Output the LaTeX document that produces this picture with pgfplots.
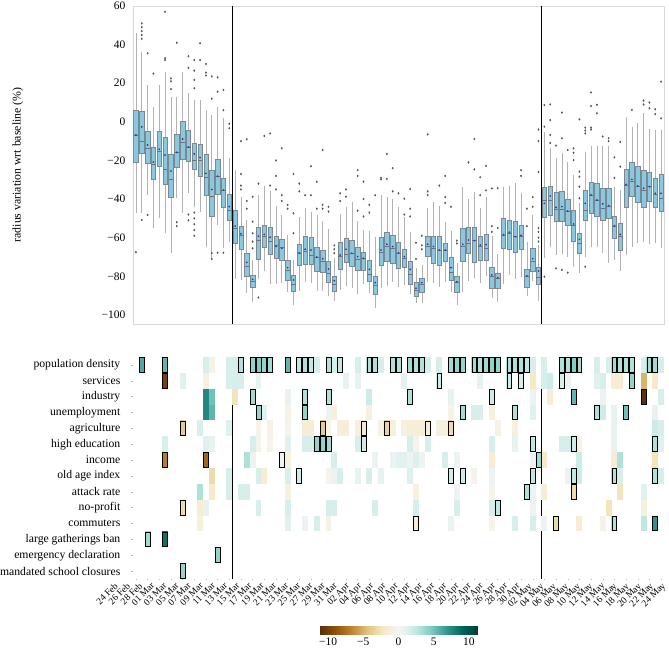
\documentclass[border=0pt]{standalone}
\usepackage{pgfplots}
\pgfplotsset{compat=1.18}
\usepackage{pgfplotstable}
\usepgfplotslibrary{statistics}
\usepackage{fontspec}
\setmainfont{Liberation Serif}

\definecolor{boxblue}{RGB}{137,201,224}
\definecolor{boxedge}{RGB}{125,135,145}
\definecolor{whisk}{RGB}{178,178,178}
\definecolor{meddark}{RGB}{105,115,125}
\definecolor{meanblue}{RGB}{40,60,170}
\definecolor{outl}{RGB}{85,85,85}

\pgfdeclareplotmark{hcell}{\pgfpathrectangle{\pgfpoint{-2.95pt}{-7.95pt}}{\pgfpoint{5.9pt}{15.9pt}}\pgfusepathqfill}
\pgfdeclareplotmark{hbox}{\pgfpathrectangle{\pgfpoint{-2.45pt}{-7.35pt}}{\pgfpoint{4.9pt}{14.7pt}}\pgfusepathqstroke}

\newcommand{\bx}[6]{\addplot[boxplot prepared={draw direction=y, draw position=#1, lower whisker=#2, lower quartile=#3, median=#4, upper quartile=#5, upper whisker=#6}] coordinates {};}

\pgfplotstableread{
x y c
1 0 6
5 0 5.5
12 0 1.5
13 0 -0.7
16 0 1.5
17 0 1.5
18 0 3
20 0 4
21 0 4.5
22 0 4
23 0 3.5
26 0 5.5
28 0 2.5
29 0 3
30 0 2.5
31 0 1.5
33 0 3
34 0 1.5
35 0 2.5
38 0 1.5
40 0 3
41 0 3
42 0 1.5
44 0 3
45 0 3
47 0 3.5
48 0 3
49 0 3
50 0 1.5
52 0 1.5
54 0 3.5
55 0 4
56 0 4
58 0 3.5
59 0 3
60 0 3.5
61 0 4
62 0 4
64 0 3
65 0 3
66 0 3
67 0 2.5
68 0 1.5
70 0 1.5
73 0 3
74 0 3
75 0 4.5
76 0 3.5
79 0 1.5
81 0 1.5
82 0 3.5
83 0 3
84 0 3
85 0 3
87 0 1.5
88 0 3.5
89 0 3.5
90 0 1.5
5 1 -10
8 1 1
12 1 -1
16 1 1.5
17 1 1.5
18 1 1.5
21 1 0.7
36 1 0.7
38 1 0.7
46 1 0.8
52 1 2
59 1 0.8
64 1 2
66 1 1.5
68 1 -2
70 1 1.5
71 1 2
73 1 1.5
74 1 0.5
79 1 1
80 1 1.5
82 1 -1.5
83 1 -1.5
85 1 4
87 1 -5
89 1 -2
12 2 7.5
13 2 5
17 2 -2.5
20 2 3.5
26 2 0.7
29 2 3
33 2 3
40 2 2
47 2 3
54 2 0.7
61 2 2
68 2 0.5
71 2 -1.5
75 2 5.5
80 2 0.5
87 2 -11
90 2 1.5
12 3 7.5
13 3 5.5
21 3 4
22 3 1
26 3 -0.7
29 3 4
33 3 0.5
34 3 -1
40 3 -1
54 3 -0.5
56 3 3.5
58 3 1.5
59 3 1.5
61 3 -1
65 3 3
68 3 1
79 3 3
80 3 2
82 3 0.7
84 3 5
89 3 0.7
8 4 -4
11 4 1.5
16 4 1
21 4 -0.7
23 4 -0.7
26 4 -0.5
29 4 -1.5
30 4 -1.5
32 4 -4
33 4 -0.5
35 4 -1.3
36 4 -1.3
38 4 -1
39 4 -2
42 4 -0.8
43 4 -3.5
44 4 -1
46 4 -1
47 4 -1.3
48 4 -1.3
49 4 -1.3
50 4 -1.5
52 4 -1
53 4 -1
54 4 -3
62 4 -0.7
65 4 -1
82 4 0.7
89 4 2
90 4 1.5
5 5 1.5
12 5 1
13 5 0.7
20 5 1.5
21 5 -0.5
23 5 -0.5
26 5 1
29 5 1.5
30 5 1.5
31 5 4
32 5 4
33 5 3.5
38 5 1.5
39 5 2
47 5 1.5
48 5 -0.5
50 5 1.5
61 5 1.5
65 5 0.7
68 5 2.5
73 5 1.5
74 5 1.5
75 5 2
76 5 -0.7
82 5 0.7
89 5 3
90 5 1
5 6 -7
12 6 -8
19 6 3
20 6 0.5
25 6 0.5
26 6 -1
34 6 1.5
41 6 0.5
44 6 0.5
45 6 1
46 6 1
47 6 0.5
48 6 1.2
49 6 0.5
53 6 1.5
55 6 0.5
61 6 -1.5
68 6 0.5
69 6 3.5
70 6 -2
76 6 2
82 6 -1.5
83 6 3
89 6 -2.5
13 7 -3
16 7 1.5
21 7 1.5
22 7 -1.5
26 7 1.5
28 7 2
33 7 -0.5
34 7 0.5
35 7 1.5
38 7 0.7
40 7 1.5
42 7 0.7
47 7 1.2
54 7 2
56 7 2
58 7 -0.5
61 7 0.5
68 7 2.5
74 7 0.5
75 7 2.5
76 7 2
82 7 3
83 7 1.5
89 7 3
90 7 1.5
11 8 3
13 8 -2
16 8 1.5
18 8 1.5
19 8 1.5
26 8 -1
48 8 -1
55 8 0.5
61 8 -0.5
67 8 3
68 8 0.5
70 8 -1.5
75 8 -3
83 8 -2.5
87 8 1
8 9 -3
11 9 -1.5
12 9 0.7
21 9 1.5
26 9 1.5
33 9 1.5
34 9 1.5
41 9 1.5
48 9 1.5
55 9 1.5
61 9 1.5
62 9 2.5
68 9 0.5
81 9 -2.5
87 9 -1
11 10 -1
26 10 1
29 10 0.5
31 10 1.5
33 10 -0.7
48 10 -1.5
54 10 0.5
61 10 -0.5
65 10 1.5
68 10 1.5
70 10 0.5
72 10 -3
76 10 -1.5
80 10 -0.7
82 10 3
87 10 2.5
89 10 7
2 11 3.5
5 11 8.5
14 12 4
8 13 4
}\hmcells

\pgfplotstableread{
x y
1 0
5 0
18 0
20 0
21 0
22 0
23 0
26 0
28 0
29 0
30 0
33 0
35 0
40 0
41 0
44 0
45 0
47 0
48 0
49 0
54 0
55 0
56 0
58 0
59 0
60 0
61 0
62 0
64 0
65 0
66 0
67 0
73 0
74 0
75 0
76 0
82 0
83 0
84 0
85 0
88 0
89 0
5 1
52 1
64 1
66 1
73 1
85 1
20 2
29 2
33 2
47 2
61 2
75 2
87 2
21 3
29 3
56 3
65 3
79 3
84 3
8 4
32 4
39 4
43 4
50 4
54 4
31 5
32 5
33 5
39 5
68 5
75 5
89 5
5 6
12 6
25 6
69 6
28 7
54 7
56 7
68 7
75 7
82 7
89 7
67 8
75 8
8 9
62 9
48 10
72 10
82 10
89 10
2 11
5 11
14 12
8 13
}\hmbox

\begin{document}
\begin{tikzpicture}
\path[use as bounding box] (0pt,0pt) rectangle (669pt,652pt);
\begin{axis}[
  at={(133pt,328pt)}, anchor=south west,
  scale only axis, width=531pt, height=318pt,
  xmin=-0.5, xmax=90.5, ymin=-104.7, ymax=60,
  tick pos=left, tick align=outside,
  xtick={0,...,90}, xticklabels={},
  major tick length=1.5pt,
  xtick style={draw=gray!55, line width=0.4pt},
  ytick={-100,-80,-60,-40,-20,0,20,40,60},
  yticklabels={−100,−80,−60,−40,−20,0,20,40,60},
  ytick style={draw=none},
  yticklabel style={font=\fontsize{11.5}{13}\selectfont, inner sep=0pt, xshift=-6pt},
  axis line style={draw=gray!30, line width=0.8pt},
  ylabel={radius variation wrt baseline (\%)},
  ylabel style={at={(axis description cs:-0.217,0.5)}, anchor=center, font=\fontsize{11.8}{13}\selectfont},
  boxplot/draw direction=y,
  boxplot/box extend=0.75,
  boxplot/whisker extend=0,
  boxplot/every box/.style={fill=boxblue, draw=boxedge, line width=0.5pt},
  boxplot/every whisker/.style={draw=whisk, line width=0.6pt},
  boxplot/every median/.style={draw=meddark, line width=0.6pt},
  clip=false,
]
\bx{0}{-47.4}{-21}{-7}{6}{46.2}
\bx{1}{-47.4}{-16.3}{-10.1}{5.6}{36}
\bx{2}{-38}{-21.5}{-13.7}{-5.1}{19}
\bx{3}{-55}{-29.8}{-22.2}{-13}{7.5}
\bx{4}{-50}{-22.9}{-15.3}{-4.9}{19}
\bx{5}{-57.7}{-32.4}{-24.6}{-7.8}{26}
\bx{6}{-68}{-39.1}{-29.8}{-16.8}{13}
\bx{7}{-39.6}{-23.6}{-15.9}{-6.6}{13}
\bx{8}{-47.4}{-19.4}{-10.4}{0.3}{26}
\bx{9}{-37}{-20.6}{-13.3}{-4.2}{14.8}
\bx{10}{-44}{-24.6}{-19.7}{-11.1}{11.3}
\bx{11}{-46.5}{-28}{-19.7}{-11.8}{11.3}
\bx{12}{-64.6}{-38}{-28.7}{-16.8}{6.2}
\bx{13}{-70.7}{-48.8}{-38.7}{-25.3}{3.6}
\bx{14}{-53.4}{-37.5}{-28.4}{-19.4}{7.9}
\bx{15}{-65.5}{-44.3}{-35.3}{-29.3}{1.8}
\bx{16}{-62}{-50.8}{-45.6}{-37.4}{-18.9}
\bx{17}{-81.6}{-62.9}{-55}{-46}{-25}
\bx{18}{-82}{-66}{-58.6}{-53.9}{-39}
\bx{19}{-88.5}{-80.2}{-74.7}{-68.3}{-50.8}
\bx{20}{-93.1}{-85.7}{-82.8}{-79.7}{-71.6}
\bx{21}{-81.6}{-71}{-61.4}{-54.5}{-37.9}
\bx{22}{-77.1}{-64.7}{-59.2}{-53.4}{-33.3}
\bx{23}{-84}{-68.6}{-61.7}{-54.6}{-36}
\bx{24}{-84}{-70.7}{-64.2}{-59.2}{-43.6}
\bx{25}{-83.6}{-71.6}{-65.2}{-60.9}{-48.3}
\bx{26}{-88}{-82.3}{-77.1}{-71.6}{-58.6}
\bx{27}{-94.9}{-87.8}{-84}{-79.5}{-71.6}
\bx{28}{-87.6}{-74.3}{-68.1}{-63.4}{-49.5}
\bx{29}{-82.8}{-73.8}{-66.9}{-59.2}{-44.8}
\bx{30}{-83.3}{-73.8}{-69.3}{-59.6}{-46.5}
\bx{31}{-87.5}{-77.6}{-70.2}{-65}{-48.3}
\bx{32}{-87.5}{-77.9}{-72.1}{-66.4}{-51.4}
\bx{33}{-90.2}{-83.1}{-78.5}{-72.4}{-55.7}
\bx{34}{-92.8}{-87.6}{-84}{-80.2}{-70.7}
\bx{35}{-87.1}{-76.4}{-69.8}{-62.6}{-47.7}
\bx{36}{-85}{-72.9}{-68.5}{-60.3}{-44.3}
\bx{37}{-86.2}{-75}{-68.1}{-61.4}{-41.3}
\bx{38}{-89.2}{-76.7}{-71}{-65.2}{-51.2}
\bx{39}{-84}{-77.1}{-70.9}{-67.4}{-56}
\bx{40}{-88.8}{-82.8}{-78.8}{-71.6}{-56.4}
\bx{41}{-96.3}{-89.2}{-84.5}{-79.8}{-59.5}
\bx{42}{-86.2}{-74.5}{-67.4}{-59.8}{-37.9}
\bx{43}{-85}{-72.4}{-64.6}{-57.1}{-38.8}
\bx{44}{-82.8}{-73.3}{-65.5}{-58.6}{-40}
\bx{45}{-85.7}{-75.9}{-68.1}{-62.2}{-44.3}
\bx{46}{-84.5}{-75.3}{-70.7}{-66}{-49.1}
\bx{47}{-89.4}{-84}{-79}{-72.4}{-56.9}
\bx{48}{-93.7}{-90.2}{-87.1}{-83.1}{-75.9}
\bx{49}{-93.7}{-88.3}{-84}{-81.2}{-74.1}
\bx{50}{-82.8}{-69.8}{-64.6}{-59}{-44.8}
\bx{51}{-83.6}{-73.3}{-65.5}{-59.2}{-41.3}
\bx{52}{-85.4}{-74.3}{-66.4}{-59.5}{-43.6}
\bx{53}{-82.8}{-72.1}{-66.7}{-62.9}{-51.7}
\bx{54}{-88.3}{-81.9}{-77.9}{-70.3}{-56.6}
\bx{55}{-94.9}{-88.5}{-83}{-80.2}{-73}
\bx{56}{-88.3}{-72.4}{-64.6}{-55.1}{-33.9}
\bx{57}{-82.4}{-68.1}{-62.9}{-54.6}{-40}
\bx{58}{-81}{-72.7}{-61.5}{-54.6}{-36.5}
\bx{59}{-83.6}{-71.6}{-64.6}{-59.5}{-44.8}
\bx{60}{-79.8}{-71.6}{-65.5}{-58.3}{-38.8}
\bx{61}{-91.4}{-86.2}{-79.8}{-75.3}{-59.2}
\bx{62}{-93.1}{-86.2}{-81.1}{-78.5}{-68.6}
\bx{63}{-84}{-65.5}{-58.6}{-50.1}{-33.9}
\bx{64}{-79.3}{-66}{-57.7}{-51}{-33}
\bx{65}{-81.6}{-67.8}{-59.5}{-51.4}{-31.5}
\bx{66}{-80.2}{-66}{-59.5}{-53.4}{-36.7}
\bx{67}{-90.2}{-85.7}{-80.2}{-76.1}{-62.4}
\bx{68}{-82.3}{-77.3}{-72.4}{-65.5}{-48.3}
\bx{69}{-92.6}{-84.2}{-80.5}{-75.5}{-63.8}
\bx{70}{-70.7}{-49.4}{-40.8}{-33.9}{-5.1}
\bx{71}{-64.6}{-48.2}{-40.5}{-33.2}{-13.7}
\bx{72}{-69}{-51.7}{-45.3}{-36.7}{-18.9}
\bx{73}{-68.4}{-51.7}{-45.3}{-36.2}{-16.3}
\bx{74}{-69.8}{-53.8}{-46.5}{-40}{-20.6}
\bx{75}{-75}{-62}{-53.8}{-46}{-27.5}
\bx{76}{-78.5}{-68.1}{-62.9}{-57.7}{-42.2}
\bx{77}{-69.8}{-50.8}{-45.7}{-35.3}{-15.8}
\bx{78}{-64.6}{-47.4}{-37.9}{-31.5}{-12.3}
\bx{79}{-64.6}{-49.1}{-40.5}{-31.8}{-12.3}
\bx{80}{-67.8}{-50.8}{-44.8}{-34.4}{-12.5}
\bx{81}{-73}{-50}{-43.9}{-34.4}{-12.3}
\bx{82}{-71.6}{-60.3}{-54.3}{-49.1}{-33.9}
\bx{83}{-77.1}{-66.4}{-59.5}{-52.6}{-35.3}
\bx{84}{-69}{-44.3}{-32.7}{-24.6}{2.3}
\bx{85}{-64.6}{-38.7}{-31}{-21}{-2.5}
\bx{86}{-62.9}{-41.8}{-33.2}{-23.2}{-0.7}
\bx{87}{-62.1}{-44.3}{-35.6}{-24.9}{4.4}
\bx{88}{-63.3}{-41.3}{-33.6}{-26.3}{-3.9}
\bx{89}{-62.9}{-44.3}{-37.5}{-29.2}{-4.2}
\bx{90}{-65.5}{-46.5}{-39.6}{-27.2}{-4.2}
% outliers
\addplot[only marks, mark=diamond*, mark size=0.9pt, draw=outl, fill=outl] coordinates {
(0,-67.5) (1,51) (1,49) (1,47) (1,45) (1,43) (1,-50.8) (2,35.5) (2,-48.2) (3,25)
(5,57) (5,33) (5,32) (6,22.5) (6,21) (6,17) (7,41) (7,-52) (7,-54) (9,34) (9,28) (9,-48) (9,-51)
(10,32) (10,26.5) (10,21.7) (10,17.4) (10,-47) (10,-50) (10,-53) (10,-56) (10,-59)
(11,40.7) (11,32) (12,30) (12,25.5) (12,24) (13,23.5) (13,12) (13,-68) (13,-71)
(14,23) (14,15.6) (14,-67.8) (15,16.5) (15,6) (15,-67.8) (16,-1) (16,-3.3)
(18,-10) (18,-27) (18,-33) (18,-35) (19,-9) (19,-41) (19,-45)
(20,-38.8) (20,-51.7) (20,-57.7) (20,-62) (20,-65.5) (21,-32) (21,-91) (22,-7.3) (23,-33) (23,-6)
(24,-35) (24,-28) (24,-20) (25,-38) (25,-41) (25,-13.7) (26,-43) (26,-45) (27,-57.7) (27,-47.4) (27,-27)
(28,-36) (28,-32) (29,-38) (30,-23) (30,-38) (31,-45) (31,-31) (32,-45) (32,-43) (32,-14.6)
(33,-46.5) (33,-44) (34,-64) (34,-66) (34,-68) (35,-41) (35,-37) (36,-35) (36,-38.8)
(38,-46) (38,-28) (38,-25) (39,-49) (39,-40) (39,-31) (40,-47) (40,-43) (41,-38)
(42,-29.8) (42,-29) (43,-29.6) (43,-16.6) (44,-36) (44,-24) (45,-37) (46,-39.8) (46,-48)
(47,-34.8) (47,-45) (47,-49) (48,-71) (48,-62.6) (49,-66) (49,-64) (49,-59)
(50,-36) (50,-6.5) (50,-38) (52,-33) (53,-42) (53,-39) (53,-28) (54,-44) (55,-61.5) (55,-63)
(57,-21) (58,-24.6) (58,-8.9) (59,-38) (59,-28.7) (60,-35.5) (60,-22.8) (61,-34.5) (61,-54) (61,-57)
(62,-55) (62,-34.4) (66,-28) (66,-25) (67,-45) (67,-54) (68,-44) (68,-39)
(69,-55) (69,-57) (69,-60) (69,-62) (69,-26) (69,-10) (69,-4)
(70,-2.5) (70,8.7) (70,-80.2) (71,-6.8) (71,0.9) (71,-11) (71,9) (72,-12.3) (72,-75.9)
(73,4.8) (73,-8.5) (73,-76.7) (74,-14.6) (74,-78.1) (75,-13.7) (75,-16) (75,-19.8)
(76,-39.6) (76,-33.6) (76,-28.4) (76,-25.8) (76,1.3) (77,-3) (77,-4.5) (77,-6) (77,-75)
(78,-4) (78,-3) (78,8.2) (78,15.2) (79,8.8) (79,4.4) (80,-7.6) (81,-8.5) (81,-10)
(82,-29) (82,-18.4) (83,-23.2) (83,-10.4) (85,6.2) (87,11) (87,9) (88,10) (88,7) (89,6.5) (89,4)
(90,1.8) (90,20.8)
};
% means
\addplot[only marks, mark=*, mark size=0.65pt, meanblue] coordinates {
(0,-6.8) (1,-2.6) (2,-12) (3,-20.8) (4,-14.2) (5,-17.2) (6,-25.5) (7,-15.8) (8,-8.9) (9,-13)
(10,-16.6) (11,-18.5) (12,-26.7) (13,-35) (14,-28.2) (15,-35.3) (16,-43.9) (17,-54) (18,-58) (19,-72.8)
(20,-81.6) (21,-59.2) (22,-58.3) (23,-59.8) (24,-64.5) (25,-65.5) (26,-75.5) (27,-81.9) (28,-67.8) (29,-66)
(30,-66.4) (31,-70) (32,-70.9) (33,-76.2) (34,-82.3) (35,-69) (36,-66) (37,-68.1) (38,-69.8) (39,-70.7)
(40,-76.4) (41,-83.3) (42,-66.4) (43,-63.4) (44,-64.6) (45,-67.8) (46,-69.8) (47,-76.4) (48,-86.2) (49,-83.3)
(50,-63.4) (51,-64.6) (52,-66.4) (53,-66.4) (54,-75.5) (55,-82.8) (56,-63.4) (57,-61.2) (58,-61.5) (59,-63.8)
(60,-63.6) (61,-79.3) (62,-80.7) (63,-58.4) (64,-57.2) (65,-59.5) (66,-58.8) (67,-79.8) (68,-70.9) (69,-77.3)
(70,-42.2) (71,-38.4) (72,-44.3) (73,-43.9) (74,-46.2) (75,-52.9) (76,-60.9) (77,-42.2) (78,-37.9) (79,-40.5)
(80,-42.5) (81,-43.4) (82,-53.8) (83,-58.3) (84,-32.4) (85,-29.8) (86,-33.2) (87,-34.4) (88,-33.6) (89,-37)
(90,-37)
};
\addplot[black, line width=0.8pt] coordinates {(16.5,-104.7) (16.5,60)};
\addplot[black, line width=0.8pt] coordinates {(69.5,-104.7) (69.5,60)};
\end{axis}

\begin{axis}[
  at={(133pt,73pt)}, anchor=south west,
  scale only axis, width=531pt, height=222pt,
  xmin=-0.5, xmax=90.5, ymin=-0.5, ymax=13.5, y dir=reverse,
  axis line style={draw=none},
  tick pos=left, tick align=outside, major tick length=1.5pt,
  tick style={draw=gray!55, line width=0.4pt},
  xtick={0,2,...,90},
  xticklabels={24 Feb,26 Feb,28 Feb,01 Mar,03 Mar,05 Mar,07 Mar,09 Mar,11 Mar,13 Mar,15 Mar,17 Mar,19 Mar,21 Mar,23 Mar,25 Mar,27 Mar,29 Mar,31 Mar,02 Apr,04 Apr,06 Apr,08 Apr,10 Apr,12 Apr,14 Apr,16 Apr,18 Apr,20 Apr,22 Apr,24 Apr,26 Apr,28 Apr,30 Apr,02 May,04 May,06 May,08 May,10 May,12 May,14 May,16 May,18 May,20 May,22 May,24 May},
  xticklabel style={font=\fontsize{9.5}{10}\selectfont, inner sep=1pt, xshift=0.5pt*\ticknum-22pt, rotate=45, anchor=north east},
  ytick={0,...,13},
  yticklabels={population density,services,industry,unemployment,agriculture,high education,income,old age index,attack rate,no-profit,commuters,large gatherings ban,emergency declaration,mandated school closures},
  yticklabel style={font=\fontsize{11.7}{13}\selectfont, inner sep=0pt, xshift=-11pt},
  colormap={brbg}{rgb255=(84,48,5) rgb255=(140,81,10) rgb255=(191,129,45) rgb255=(223,194,125) rgb255=(246,232,195) rgb255=(246,246,246) rgb255=(199,234,229) rgb255=(128,205,193) rgb255=(53,151,143) rgb255=(1,102,94) rgb255=(0,60,48)},
  point meta min=-11.3, point meta max=11.3,
  colorbar horizontal,
  colorbar style={
    at={(parent axis.south)}, anchor=north, yshift=-39pt,
    scale only axis, width=159pt, height=8pt,
    xtick={-10,-5,0,5,10}, xticklabels={−10,−5,0,5,10},
    xticklabel style={font=\fontsize{11.5}{13}\selectfont},
    axis line style={draw=none}, major tick length=0pt,
  },
  clip=false,
]
\addplot[scatter, only marks, mark=hcell, point meta=explicit,
  scatter/use mapped color={draw=mapped color, fill=mapped color}]
  table[x=x, y=y, meta=c] {\hmcells};
\addplot[black, line width=0.8pt] coordinates {(16.5,-0.5) (16.5,13.5)};
\addplot[black, line width=0.8pt] coordinates {(69.5,-0.5) (69.5,13.5)};
\addplot[only marks, mark=hbox, mark options={draw=black, line width=0.75pt}] table[x=x, y=y] {\hmbox};
\end{axis}
\end{tikzpicture}
\end{document}
